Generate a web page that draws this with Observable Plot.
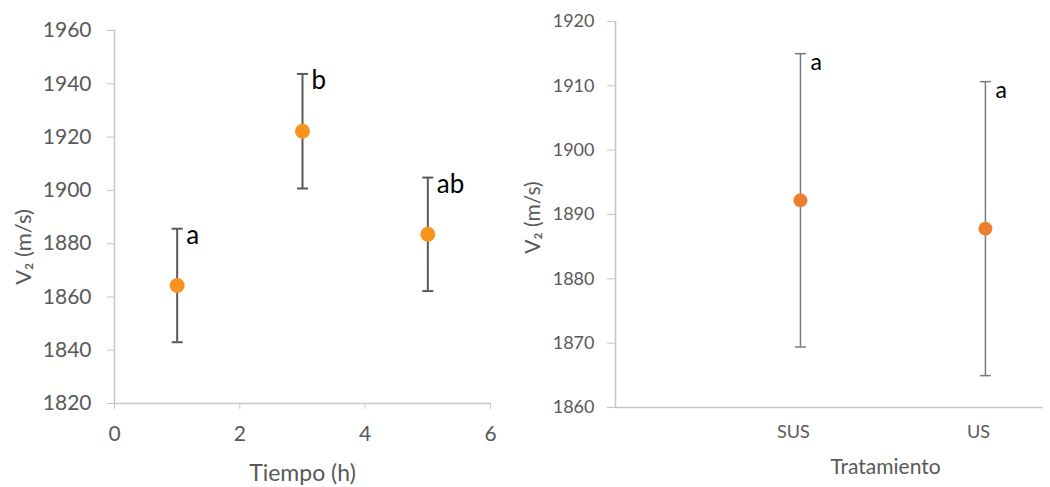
<!DOCTYPE html>
<html><head><meta charset="utf-8">
<script src="https://cdn.jsdelivr.net/npm/d3@7"></script>
<script src="https://cdn.jsdelivr.net/npm/@observablehq/plot@0.6"></script>
<style>
body{margin:0;background:#fff;}
#wrap{position:relative;width:1050px;height:487px;overflow:hidden;}
#left{position:absolute;left:0;top:0;}
#right{position:absolute;left:520px;top:0;}
</style></head><body><div id="wrap"><div id="left"></div><div id="right"></div></div>
<script>
// Left panel: V2 vs time
const timeHours = [1, 3, 5];
const timeMeans = [1864.3, 1922.2, 1883.5];
const timeErrors = [21.3, 21.5, 21.3];
const timeLetters = ["a", "b", "ab"];
const timeTicksX = [0, 2, 4, 6];
const timeTicksY = [1820, 1840, 1860, 1880, 1900, 1920, 1940, 1960];

// Right panel: V2 vs treatment
const treatments = ["SUS", "US"];
const treatMeans = [1892.2, 1887.8];
const treatErrors = [22.8, 22.85];
const treatLetters = ["a", "a"];
const treatTicksY = [1860, 1870, 1880, 1890, 1900, 1910, 1920];

const FONT = "Lato, 'Open Sans', sans-serif";
const cap = (hw) => ({draw(ctx) { ctx.moveTo(-hw, 0); ctx.lineTo(hw, 0); }});

const timeData = timeHours.map((h, i) => ({
  h, mean: timeMeans[i], lo: timeMeans[i] - timeErrors[i], hi: timeMeans[i] + timeErrors[i], letter: timeLetters[i]
}));

const left = Plot.plot({
  width: 520, height: 487,
  marginLeft: 114, marginRight: 30, marginTop: 30, marginBottom: 84,
  style: {fontFamily: FONT, background: "#fff"},
  x: {domain: [0, 6]},
  y: {domain: [1820, 1960]},
  marks: [
    Plot.ruleX([0], {stroke: "#c8c8c8", strokeWidth: 1.5}),
    Plot.ruleY([1820], {stroke: "#c8c8c8", strokeWidth: 1.5}),
    Plot.axisY({ticks: timeTicksY, tickFormat: "d", tickSize: 7, tickPadding: 16, stroke: "#c8c8c8", fill: "#595959", fontSize: 21, label: null}),
    Plot.axisX({ticks: timeTicksX, tickFormat: "d", tickSize: 6, tickPadding: 17, stroke: "#c8c8c8", fill: "#595959", fontSize: 21, label: null}),
    Plot.ruleX(timeData, {x: "h", y1: "lo", y2: "hi", stroke: "#595959", strokeWidth: 2}),
    Plot.dot(timeData, {x: "h", y: "lo", symbol: cap(5.5), fill: "none", stroke: "#595959", strokeWidth: 2}),
    Plot.dot(timeData, {x: "h", y: "hi", symbol: cap(5.5), fill: "none", stroke: "#595959", strokeWidth: 2}),
    Plot.dot(timeData, {x: "h", y: "mean", r: 7.5, fill: "#F7941D", stroke: "none"}),
    Plot.text(timeData, {x: "h", y: "hi", text: "letter", dx: 9, dy: 7, textAnchor: "start", lineAnchor: "middle", fontSize: 26, fill: "#000"}),
    Plot.text(["V₂ (m/s)"], {text: d => d, frameAnchor: "left", rotate: -90, dx: -91, dy: 30, textAnchor: "middle", lineAnchor: "middle", fontSize: 22, fill: "#595959"}),
    Plot.text(["Tiempo (h)"], {text: d => d, frameAnchor: "bottom", dy: 70, textAnchor: "middle", lineAnchor: "middle", fontSize: 23, fill: "#595959"})
  ]
});
document.getElementById("left").appendChild(left);

const treatData = treatments.map((t, i) => ({
  pos: i + 1, mean: treatMeans[i], lo: treatMeans[i] - treatErrors[i], hi: treatMeans[i] + treatErrors[i], letter: treatLetters[i]
}));

const right = Plot.plot({
  width: 530, height: 487,
  marginLeft: 95, marginRight: 7, marginTop: 21, marginBottom: 80,
  style: {fontFamily: FONT, background: "#fff"},
  x: {domain: [0, 2.314]},
  y: {domain: [1860, 1920]},
  marks: [
    Plot.ruleX([0], {stroke: "#c4c4c4", strokeWidth: 1.5}),
    Plot.ruleY([1860], {stroke: "#c4c4c4", strokeWidth: 1.5}),
    Plot.axisY({ticks: treatTicksY, tickFormat: "d", tickSize: 8, tickPadding: 13, stroke: "#c4c4c4", fill: "#595959", fontSize: 18, label: null}),
    Plot.axisX({ticks: [1, 2], tickFormat: i => treatments[i - 1], tickSize: 0, tickPadding: 18, dx: -7, fill: "#595959", fontSize: 18, label: null}),
    Plot.ruleX(treatData, {x: "pos", y1: "lo", y2: "hi", stroke: "#7a7a7a", strokeWidth: 1.5}),
    Plot.dot(treatData, {x: "pos", y: "lo", symbol: cap(5.5), fill: "none", stroke: "#7a7a7a", strokeWidth: 1.5}),
    Plot.dot(treatData, {x: "pos", y: "hi", symbol: cap(5.5), fill: "none", stroke: "#7a7a7a", strokeWidth: 1.5}),
    Plot.dot(treatData, {x: "pos", y: "mean", r: 7, fill: "#ED7D31", stroke: "none"}),
    Plot.text(treatData, {x: "pos", y: "hi", text: "letter", dx: 10, dy: 9, textAnchor: "start", lineAnchor: "middle", fontSize: 23, fill: "#000"}),
    Plot.text(["V₂ (m/s)"], {text: d => d, frameAnchor: "left", rotate: -90, dx: -82, dy: 3, textAnchor: "middle", lineAnchor: "middle", fontSize: 21, fill: "#595959"}),
    Plot.text(["Tratamiento"], {text: d => d, frameAnchor: "bottom", dx: 56, dy: 60, textAnchor: "middle", lineAnchor: "middle", fontSize: 21, fill: "#595959"})
  ]
});
document.getElementById("right").appendChild(right);
</script>
</body></html>
